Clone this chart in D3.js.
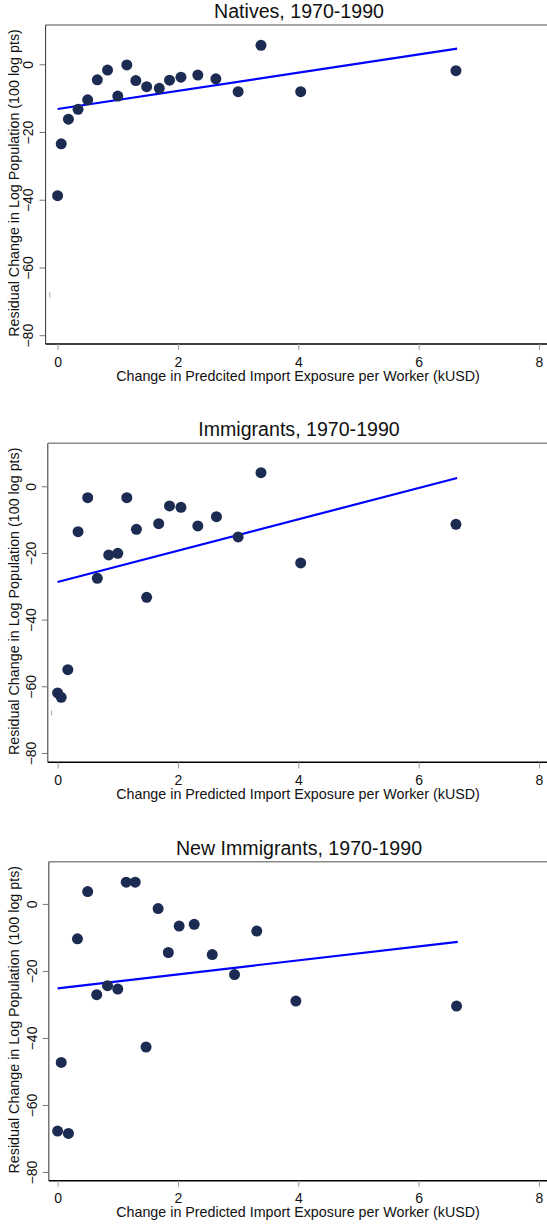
<!DOCTYPE html>
<html>
<head>
<meta charset="utf-8">
<script src="https://cdn.jsdelivr.net/npm/d3@7"></script>
<style>
  html, body { margin: 0; padding: 0; background: #ffffff; }
  svg { display: block; }
  text { font-family: "Liberation Sans", Arial, sans-serif; fill: #111; }
</style>
</head>
<body>
<svg id="chart" width="547" height="1224"></svg>
<script>
// ---------- data ----------
const titles = ["Natives, 1970-1990", "Immigrants, 1970-1990", "New Immigrants, 1970-1990"];
const xTitles = [
  "Change in Predcited Import Exposure per Worker (kUSD)",
  "Change in Predicted Import Exposure per Worker (kUSD)",
  "Change in Predicted Import Exposure per Worker (kUSD)"
];
const yTitle = "Residual Change in Log Population (100 log pts)";
const xTicks = [0, 2, 4, 6, 8];
const yTicks = [0, -20, -40, -60, -80];

const nativesX = [0, 0.06, 0.18, 0.34, 0.50, 0.66, 0.83, 1.00, 1.15, 1.30, 1.48, 1.69, 1.86, 2.05, 2.33, 2.63, 3.00, 3.38, 4.04, 6.62];
const nativesY = [-38.8, -23.5, -16.2, -13.3, -10.5, -4.6, -1.7, -9.4, -0.2, -4.8, -6.6, -7.1, -4.7, -3.8, -3.2, -4.3, -8.1, 5.6, -8.1, -1.9];

const immigrantsX = [0, 0.06, 0.17, 0.34, 0.50, 0.66, 0.85, 1.00, 1.15, 1.31, 1.48, 1.68, 1.86, 2.05, 2.33, 2.64, 3.00, 3.38, 4.04, 6.62];
const immigrantsY = [-62.0, -63.3, -55.0, -13.6, -3.4, -27.6, -20.6, -20.1, -3.4, -12.9, -33.3, -11.2, -5.9, -6.3, -11.9, -9.1, -15.2, 4.1, -23.0, -11.4];

const newImmX = [0, 0.06, 0.18, 0.33, 0.50, 0.65, 0.83, 1.00, 1.14, 1.29, 1.47, 1.67, 1.84, 2.02, 2.27, 2.57, 2.94, 3.31, 3.96, 6.63];
const newImmY = [-67.8, -47.3, -68.5, -10.4, 3.7, -27.1, -24.4, -25.4, 6.5, 6.5, -42.7, -1.4, -14.5, -6.6, -6.1, -15.1, -21.1, -8.1, -29.0, -30.5];

// fitted line endpoints [x0, y0, x1, y1]
const fitNatives = [0, -13.2, 6.64, 4.6];
const fitImmigrants = [0, -28.7, 6.64, 2.5];
const fitNewImm = [0, -25.2, 6.65, -11.3];

// tiny stray marks seen near the y axis
const strayX = [-0.13, -0.10, null];
const strayY = [-68.1, -68.0, null];

// axis ranges (data units)
const yDomains = [[-82.6, 11.6], [-82.8, 12.9], [-82.6, 12.6]];
const xMins = [-0.2, -0.163, -0.146];

// ---------- layout ----------
const panelTops = [25, 443.3, 861.7];
const panelH = 319;
const xRange = [57.6, 539];
const W = 547;

const svg = d3.select("#chart");
const series = [
  { xs: nativesX, ys: nativesY, fit: fitNatives },
  { xs: immigrantsX, ys: immigrantsY, fit: fitImmigrants },
  { xs: newImmX, ys: newImmY, fit: fitNewImm }
];

series.forEach((s, i) => {
  const top = panelTops[i];
  const bottom = top + panelH;
  const x = d3.scaleLinear().domain([0, 8]).range(xRange);
  const y = d3.scaleLinear().domain(yDomains[i]).range([bottom, top]);
  const g = svg.append("g");
  const left = x(xMins[i]);

  // title
  g.append("text")
    .attr("x", 299).attr("y", top - 7.2)
    .attr("text-anchor", "middle")
    .style("font-size", "19.6px")
    .text(titles[i]);

  // top frame
  g.append("line")
    .attr("x1", left).attr("x2", W + 10)
    .attr("y1", top).attr("y2", top)
    .attr("stroke", "#8a8a8a").attr("stroke-width", 1.4);

  // y axis
  const yAxis = d3.axisLeft(y).tickValues(yTicks).tickSize(6).tickPadding(6);
  const ya = g.append("g").attr("transform", `translate(${left},0)`).call(yAxis);
  ya.select(".domain").attr("stroke", "#444").attr("stroke-width", 1.1)
    .attr("d", `M0,${top}V${bottom}`);
  ya.selectAll(".tick line").attr("stroke", "#777").attr("x1", -0.5);
  ya.selectAll(".tick text")
    .attr("transform", null)
    .attr("x", null).attr("dy", null)
    .style("font-size", "14px")
    .attr("text-anchor", "middle")
    .each(function(d) {
      const t = d3.select(this);
      t.attr("transform", `translate(${-12.2},${0}) rotate(-90)`).attr("x", 0).attr("y", 0);
    });

  // x axis
  const xAxis = d3.axisBottom(x).tickValues(xTicks).tickSize(6).tickPadding(6);
  const xa = g.append("g").attr("transform", `translate(0,${bottom})`).call(xAxis);
  xa.select(".domain").attr("stroke", "#000").attr("stroke-width", 1.6)
    .attr("d", `M${left},0H${W + 10}`);
  xa.selectAll(".tick line").attr("stroke", "#999");
  xa.selectAll(".tick text").style("font-size", "14px")
    .attr("dy", null).attr("y", 22.7);
  svg.selectAll("text").attr("fill", "#111");

  // axis titles
  g.append("text")
    .attr("x", 298).attr("y", bottom + 36.5)
    .attr("text-anchor", "middle")
    .style("font-size", "14.3px")
    .text(xTitles[i]);
  g.append("text")
    .attr("transform", `translate(18.7,${(top + bottom) / 2 - 1.5}) rotate(-90)`)
    .attr("text-anchor", "middle")
    .style("font-size", "14.3px")
    .text(yTitle);

  // stray mark
  if (strayX[i] !== null) {
    g.append("line")
      .attr("x1", x(strayX[i])).attr("x2", x(strayX[i]))
      .attr("y1", y(strayY[i]) - 2.5).attr("y2", y(strayY[i]) + 2.5)
      .attr("stroke", "#9aa4bc").attr("stroke-width", 1);
  }

  // fit line
  g.append("line")
    .attr("x1", x(s.fit[0])).attr("y1", y(s.fit[1]))
    .attr("x2", x(s.fit[2])).attr("y2", y(s.fit[3]))
    .attr("stroke", "#0000ff").attr("stroke-width", 2.2);

  // points
  const pts = s.xs.map((v, k) => [v, s.ys[k]]);
  g.selectAll("circle.pt").data(pts).enter().append("circle")
    .attr("class", "pt")
    .attr("cx", d => x(d[0])).attr("cy", d => y(d[1]))
    .attr("r", 5.5)
    .attr("fill", "#1c2b52");
});
</script>
</body>
</html>
